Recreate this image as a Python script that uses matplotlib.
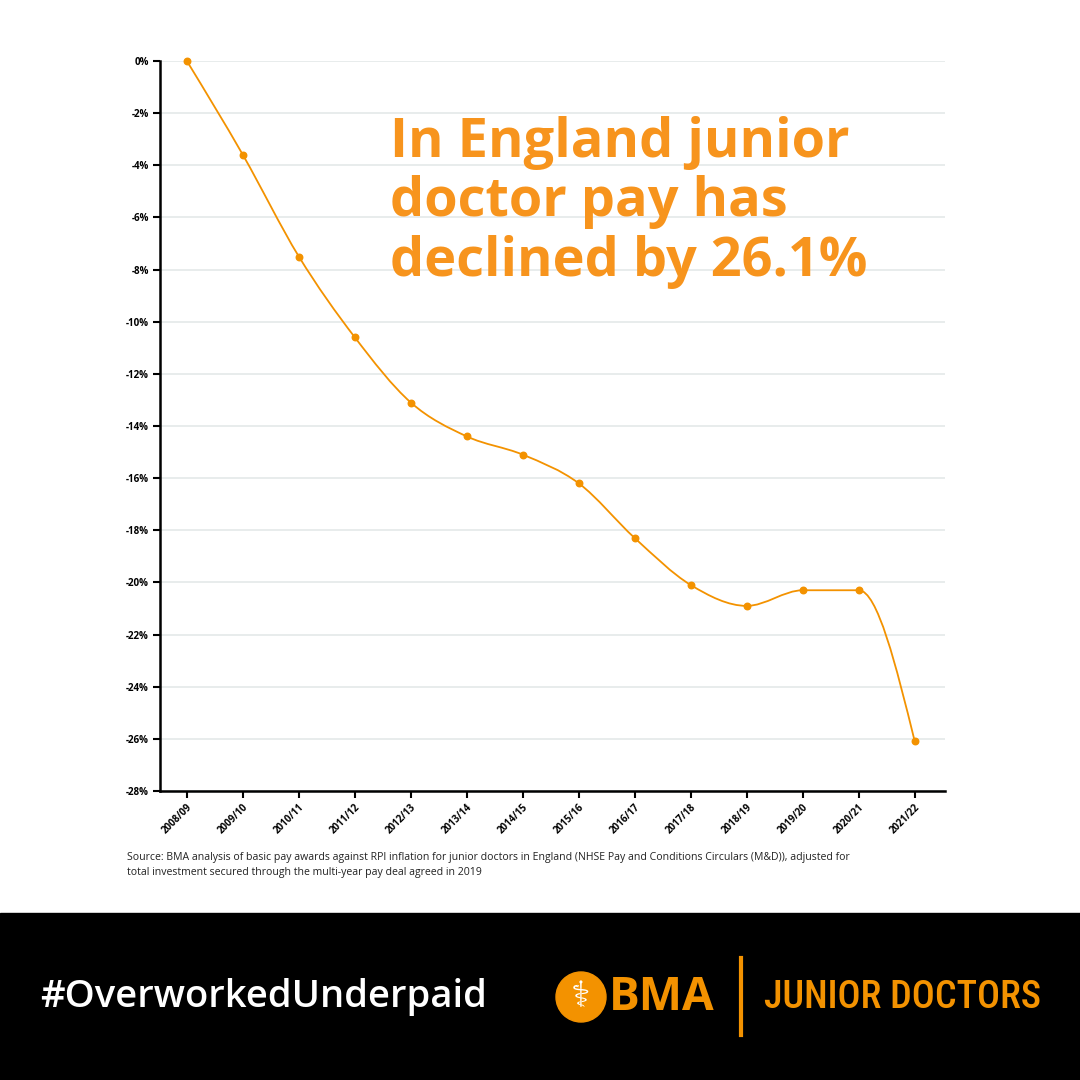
import matplotlib
matplotlib.use('Agg')
import matplotlib.pyplot as plt
from matplotlib.path import Path
from matplotlib.patches import PathPatch, Rectangle, Circle
import numpy as np

# data
years = ['2008/09', '2009/10', '2010/11', '2011/12', '2012/13', '2013/14', '2014/15',
         '2015/16', '2016/17', '2017/18', '2018/19', '2019/20', '2020/21', '2021/22']
pay_change = [0, -3.6, -7.5, -10.6, -13.1, -14.4, -15.1, -16.2, -18.3, -20.1, -20.9, -20.3, -20.3, -26.1]
yticks = list(range(0, -30, -2))

orange = '#f39200'
title_orange = '#f7941d'

plt.rcParams['font.family'] = ['Open Sans', 'DejaVu Sans']

fig = plt.figure(figsize=(10.8, 10.8), dpi=100)
ax = fig.add_axes([160/1080, 289/1080, 785/1080, 730/1080])

x = np.arange(len(years))
y = np.array(pay_change, dtype=float)


# monotone curve (like d3 curveMonotoneX), drawn as a bezier path
def slope3(i):
    s0 = y[i] - y[i-1]
    s1 = y[i+1] - y[i]
    p = (s0 + s1) / 2
    if s0 == 0 or s1 == 0 or np.sign(s0) != np.sign(s1):
        return 0.0
    return np.sign(s0) * min(2*abs(s0), 2*abs(s1), abs(p))

t = [0.0]*len(y)
for i in range(1, len(y)-1):
    t[i] = slope3(i)
t[0] = (3*(y[1]-y[0]) - t[1]) / 2
t[-1] = (3*(y[-1]-y[-2]) - t[-2]) / 2

verts = [(x[0], y[0])]
codes = [Path.MOVETO]
for i in range(len(y)-1):
    verts += [(x[i]+1/3, y[i]+t[i]/3), (x[i+1]-1/3, y[i+1]-t[i+1]/3), (x[i+1], y[i+1])]
    codes += [Path.CURVE4]*3
ax.add_patch(PathPatch(Path(verts, codes), facecolor='none', edgecolor=orange, lw=1.3, zorder=3))
ax.scatter(x, y, s=22, color=orange, zorder=4, clip_on=False)

ax.set_xlim(-0.48, 13.54)
ax.set_ylim(-28, 0)
ax.set_yticks(yticks)
ax.set_yticklabels([f'{v}%' for v in yticks], fontsize=7, fontweight='bold')
ax.set_xticks(x)
ax.set_xticklabels(years, rotation=45, ha='right', rotation_mode='anchor', fontsize=7, fontweight='bold')
ax.tick_params(axis='both', length=5, width=1.5, color='black', pad=3)
ax.grid(axis='y', color='#e6eaea', lw=1.3)
ax.set_axisbelow(True)
for s in ['top', 'right']:
    ax.spines[s].set_visible(False)
for s in ['left', 'bottom']:
    ax.spines[s].set_linewidth(1.8)

# headline
fig.text(390/1080, 1 - 116/1080, 'In England junior\ndoctor pay has\ndeclined by 26.1%',
         color=title_orange, fontsize=39, fontweight='bold', va='top', ha='left', linespacing=1.13)

# source note
fig.text(127/1080, 1 - 852/1080,
         'Source: BMA analysis of basic pay awards against RPI inflation for junior doctors in England (NHSE Pay and Conditions Circulars (M&D)), adjusted for\n'
         'total investment secured through the multi-year pay deal agreed in 2019',
         fontsize=7.6, color='#222222', va='top', ha='left', linespacing=1.45)

# footer band
fig.patches.append(Rectangle((0, 0), 1, 167/1080, transform=fig.transFigure, color='black', zorder=0))
fig.text(40/1080, 1 - 997/1080, '#OverworkedUnderpaid', color='white', fontsize=27.5,
         fontweight='semibold', va='center', ha='left')
fig.patches.append(Circle((581/1080, 1 - 997/1080), 25/1080, transform=fig.transFigure, color=orange))
fig.text(581/1080, 1 - 997/1080, '\u2695', color='white', fontsize=26, va='center', ha='center',
         family=['DejaVu Sans'])
fig.text(609/1080, 1 - 997/1080, 'BMA', color=orange, fontsize=33, fontweight='bold',
         va='center', ha='left')
fig.add_artist(plt.Line2D([741/1080, 741/1080], [1 - 1035/1080, 1 - 958/1080],
                          transform=fig.transFigure, color=orange, lw=3))
fig.text(764/1080, 1 - 997/1080, 'JUNIOR DOCTORS', color=orange, fontsize=27.5,
         va='center', ha='left', family=['Roboto Condensed', 'Liberation Sans Narrow', 'Roboto'],
         fontweight='medium')

fig.savefig('out.png', dpi=100, facecolor='white')
